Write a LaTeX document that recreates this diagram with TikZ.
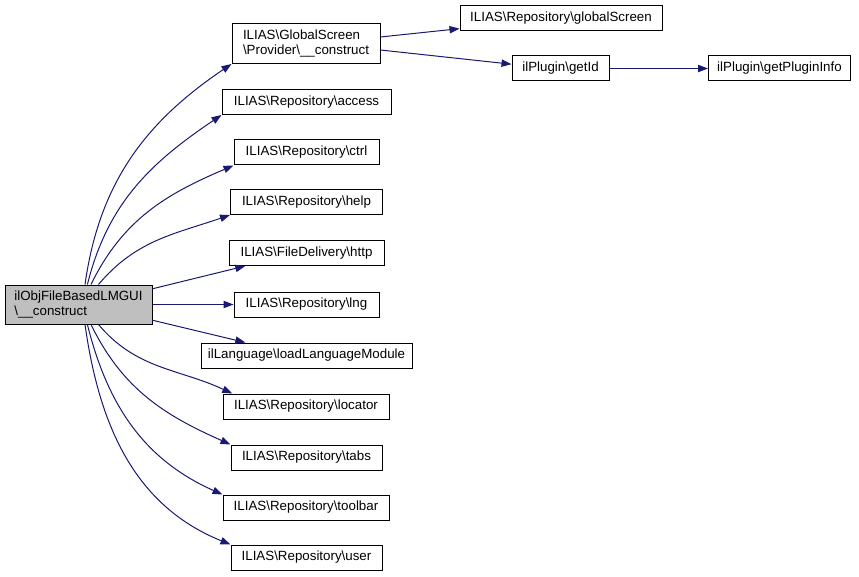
\documentclass[tikz,border=0pt]{standalone}
\usepackage{fontspec}
\setmainfont{Liberation Sans}
\usetikzlibrary{arrows.meta}
\newcommand{\bs}{\textbackslash}
\tikzset{
  fn/.style={draw,fill=white,line width=0.75pt,inner xsep=2pt,inner ysep=1pt,
    minimum height=18.75pt,font=\fontsize{10pt}{11.5pt}\selectfont},
  edge/.style={draw=edgeblue,line width=0.75pt,
    -{Triangle[length=7.5pt,width=5.5pt,fill=edgeblue]}}
}
\definecolor{edgeblue}{HTML}{191970}
\begin{document}
\begin{tikzpicture}[x=0.75pt,y=-0.75pt]
  \useasboundingbox (0,0) rectangle (859,577);
  %% caller
  \node[fn,anchor=center,fill=black!25,align=left,minimum width=110.25pt,minimum height=29.25pt] (main) at (78.5,304.5) {ilObjFileBasedLMGUI\\\bs\_\_construct};
  %% called functions
  \node[fn,anchor=center,align=left,minimum width=111pt,minimum height=30pt] (gs) at (306,43.5) {ILIAS\bs GlobalScreen\\\bs Provider\bs\_\_construct};
  \node[fn,anchor=center,minimum width=126.75pt] (access) at (306.5,102) {ILIAS\bs Repository\bs access};
  \node[fn,anchor=center,minimum width=108.75pt] (ctrl) at (306.5,152.5) {ILIAS\bs Repository\bs ctrl};
  \node[fn,anchor=center,minimum width=114pt] (help) at (306.5,202) {ILIAS\bs Repository\bs help};
  \node[fn,anchor=center,minimum width=116.25pt] (http) at (306.5,253) {ILIAS\bs FileDelivery\bs http};
  \node[fn,anchor=center,minimum width=108.75pt] (lng) at (306.5,304.5) {ILIAS\bs Repository\bs lng};
  \node[fn,anchor=center,minimum width=158.25pt] (load) at (306.5,355.5) {ilLanguage\bs loadLanguageModule};
  \node[fn,anchor=center,minimum width=124.5pt] (locator) at (306,406.5) {ILIAS\bs Repository\bs locator};
  \node[fn,anchor=center,minimum width=113.25pt] (tabs) at (306.5,457.5) {ILIAS\bs Repository\bs tabs};
  \node[fn,anchor=center,minimum width=124.5pt] (toolbar) at (306,507.5) {ILIAS\bs Repository\bs toolbar};
  \node[fn,anchor=center,minimum width=113.25pt] (user) at (306.5,557.5) {ILIAS\bs Repository\bs user};
  %% second level
  \node[fn,anchor=center,minimum width=151.5pt] (screen) at (561,18) {ILIAS\bs Repository\bs globalScreen};
  \node[fn,anchor=center,minimum width=72.75pt] (getid) at (560.5,68.5) {ilPlugin\bs getId};
  \node[fn,anchor=center,minimum width=106.5pt] (info) at (779.5,68.5) {ilPlugin\bs getPluginInfo};
  %% edges
  \path[edge] (main.72) to[out=82,in=214] (gs.south west);
  \path[edge] (main.66) to[out=76,in=214] (access.south west);
  \path[edge] (main.58) to[out=64,in=203] (ctrl.south west);
  \path[edge] (main.45) to[out=50,in=199] (help.south west);
  \path[edge] (main.12) -- (http.192);
  \path[edge] (main) -- (lng);
  \path[edge] (main.-12) -- (load.168);
  \path[edge] (main.-45) to[out=-50,in=155] (locator.170);
  \path[edge] (main.-58) to[out=-64,in=156] (tabs.north west);
  \path[edge] (main.-66) to[out=-76,in=156] (toolbar.north west);
  \path[edge] (main.-72) to[out=-82,in=158] (user.north west);
  \path[edge] (gs.5) -- (screen.186);
  \path[edge] (gs.-5) -- (getid.175);
  \path[edge] (getid) -- (info);
\end{tikzpicture}
\end{document}
